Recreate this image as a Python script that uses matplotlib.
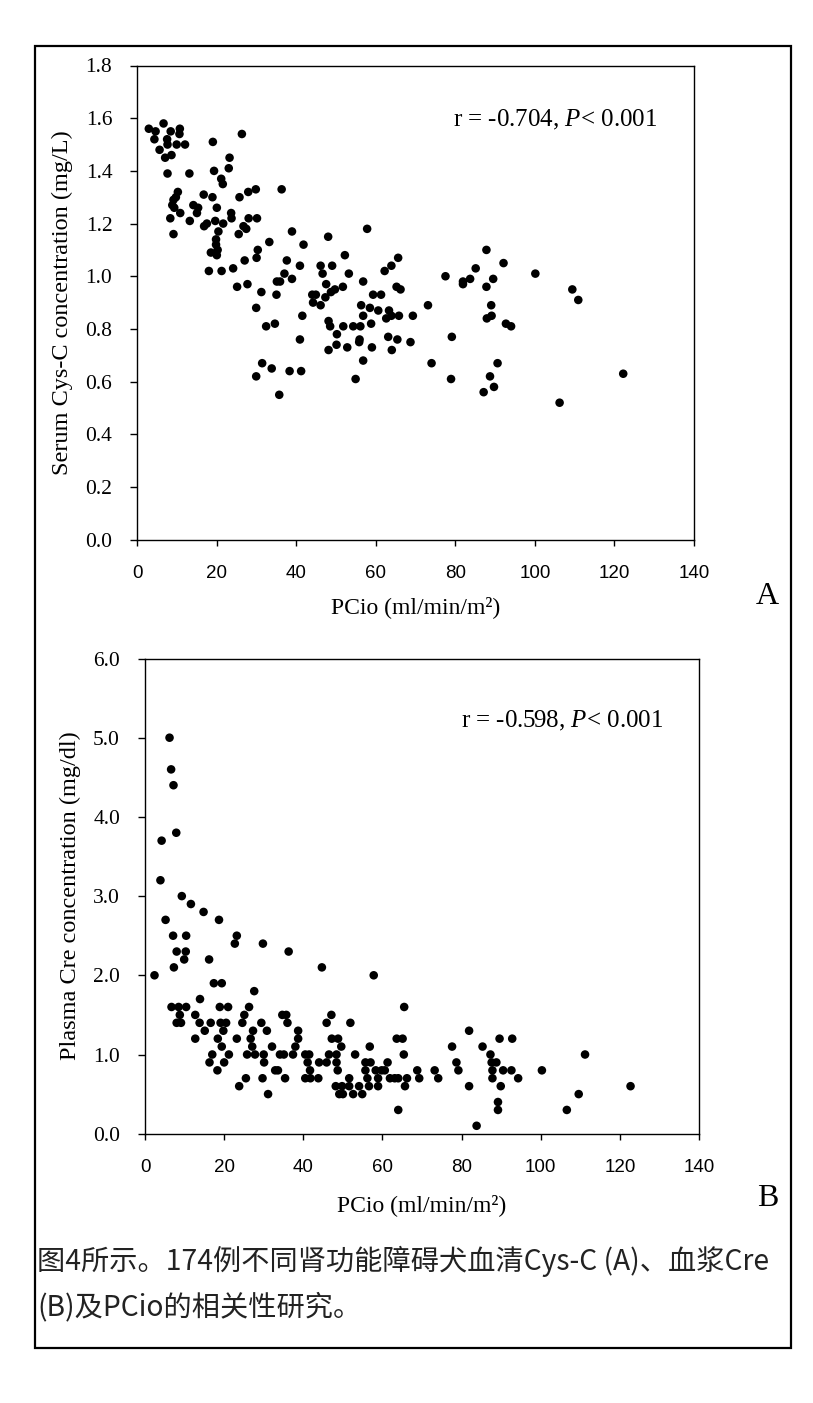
import matplotlib
matplotlib.use("Agg")
import matplotlib.pyplot as plt
from matplotlib.patches import Rectangle

# ---------------- data ----------------
# Panel A: PCio (ml/min/m2) vs serum Cys-C (mg/L)
a_x = [2.9, 4.6, 6.6, 8.4, 10.7, 10.6, 4.3, 7.5, 7.6, 9.9, 12.0, 5.6, 7.0, 8.6, 7.6, 13.1,
       19.0, 26.3, 23.2, 23.0, 19.3, 21.1, 21.5, 36.3, 29.8, 27.9, 25.7, 10.2, 9.7, 9.1, 8.8,
       9.3, 10.8, 8.3, 13.2, 9.1, 16.7, 18.9, 14.1, 15.3, 15.0, 20.0, 23.6, 23.7, 28.0, 30.1,
       16.8, 17.5, 19.6, 21.6, 20.4, 26.7, 27.4, 25.5, 19.8, 19.8, 18.5, 20.2, 20.0, 38.9,
       33.2, 41.8, 48.0, 30.3, 30.0, 27.0, 37.6, 40.9, 46.1, 18.0, 21.2, 24.1, 37.0, 38.9,
       46.6, 35.1, 35.9, 47.5, 25.1, 27.7, 31.2, 35.0, 44.0, 44.9, 47.3, 48.7, 44.2, 46.1,
       29.9, 41.5, 32.4, 34.6, 48.1, 48.5, 40.9, 48.1, 31.4, 33.8, 38.3, 41.2, 29.9, 35.7,
       57.8, 52.2, 65.6, 49.0, 63.9, 62.2, 53.2, 56.8, 65.2, 66.2, 51.7, 49.7, 59.3, 61.3,
       56.3, 58.5, 60.6, 63.3, 73.1, 56.8, 62.6, 63.9, 65.8, 69.3, 51.8, 54.3, 56.1, 58.8,
       50.2, 55.9, 55.8, 63.1, 65.4, 68.7, 50.1, 52.8, 59.0, 64.0, 56.8, 54.9, 74.0, 78.9,
       79.1, 77.5, 81.9, 83.7, 81.9, 85.1, 87.8, 89.5, 87.8, 92.1, 89.0, 89.1, 87.9, 92.7,
       90.6, 88.7, 89.7, 87.1, 100.1, 109.4, 110.9, 94.0, 122.2, 106.2]
a_y = [1.56, 1.55, 1.58, 1.55, 1.56, 1.54, 1.52, 1.52, 1.50, 1.50, 1.50, 1.48, 1.45, 1.46, 1.39, 1.39,
       1.51, 1.54, 1.45, 1.41, 1.40, 1.37, 1.35, 1.33, 1.33, 1.32, 1.30, 1.32, 1.30, 1.29, 1.27,
       1.26, 1.24, 1.22, 1.21, 1.16, 1.31, 1.30, 1.27, 1.26, 1.24, 1.26, 1.24, 1.22, 1.22, 1.22,
       1.19, 1.20, 1.21, 1.20, 1.17, 1.19, 1.18, 1.16, 1.14, 1.12, 1.09, 1.10, 1.08, 1.17,
       1.13, 1.12, 1.15, 1.10, 1.07, 1.06, 1.06, 1.04, 1.04, 1.02, 1.02, 1.03, 1.01, 0.99,
       1.01, 0.98, 0.98, 0.97, 0.96, 0.97, 0.94, 0.93, 0.93, 0.93, 0.92, 0.94, 0.90, 0.89,
       0.88, 0.85, 0.81, 0.82, 0.83, 0.81, 0.76, 0.72, 0.67, 0.65, 0.64, 0.64, 0.62, 0.55,
       1.18, 1.08, 1.07, 1.04, 1.04, 1.02, 1.01, 0.98, 0.96, 0.95, 0.96, 0.95, 0.93, 0.93,
       0.89, 0.88, 0.87, 0.87, 0.89, 0.85, 0.84, 0.85, 0.85, 0.85, 0.81, 0.81, 0.81, 0.82,
       0.78, 0.76, 0.75, 0.77, 0.76, 0.75, 0.74, 0.73, 0.73, 0.72, 0.68, 0.61, 0.67, 0.61,
       0.77, 1.00, 0.98, 0.99, 0.97, 1.03, 1.10, 0.99, 0.96, 1.05, 0.89, 0.85, 0.84, 0.82,
       0.67, 0.62, 0.58, 0.56, 1.01, 0.95, 0.91, 0.81, 0.63, 0.52]

# Panel B: PCio (ml/min/m2) vs plasma Cre (mg/dl)
b_x = [6.2, 6.6, 7.2, 7.9, 4.2, 3.9, 9.3, 11.6, 14.8, 18.7, 5.2, 7.1, 10.4, 23.2, 22.7, 29.8,
       8.0, 10.3, 9.9, 16.2, 7.3, 2.4, 17.4, 19.4, 27.6, 13.9, 6.7, 8.5, 10.4, 18.9, 21.0,
       26.3, 36.3, 8.8, 12.7, 25.1, 34.7, 35.7, 44.7, 8.0, 9.1, 13.8, 16.6, 19.1, 20.5, 24.6,
       29.4, 36.0, 45.9, 47.1, 15.1, 19.8, 27.3, 30.8, 38.7, 12.7, 18.4, 23.2, 26.7, 38.7,
       47.2, 48.8, 19.4, 27.1, 32.1, 38.0, 17.0, 21.2, 25.8, 27.8, 30.0, 34.1, 35.1, 37.4,
       40.5, 41.5, 46.5, 48.4, 16.3, 20.0, 30.1, 41.1, 44.0, 45.9, 48.4, 18.3, 32.9, 33.6,
       41.7, 25.5, 29.7, 35.4, 40.5, 41.8, 43.8, 48.2, 23.8, 31.1, 49.1, 57.8, 65.5, 51.9,
       81.9, 63.6, 65.1, 89.6, 92.8, 49.6, 56.8, 77.6, 85.3, 53.1, 65.4, 87.3, 55.7, 57.0,
       61.3, 78.7, 87.6, 88.8, 48.7, 55.7, 58.3, 59.8, 60.6, 68.8, 73.2, 79.2, 87.8, 90.5,
       92.6, 51.6, 56.2, 58.9, 61.9, 63.1, 64.0, 66.2, 69.3, 74.1, 87.8, 94.3, 49.8, 51.6,
       54.1, 56.6, 58.9, 65.7, 81.9, 89.9, 50.0, 52.6, 54.9, 89.2, 64.0, 89.2, 83.8, 111.2,
       100.3, 122.7, 109.6, 106.6]
b_y = [5.0, 4.6, 4.4, 3.8, 3.7, 3.2, 3.0, 2.9, 2.8, 2.7, 2.7, 2.5, 2.5, 2.5, 2.4, 2.4,
       2.3, 2.3, 2.2, 2.2, 2.1, 2.0, 1.9, 1.9, 1.8, 1.7, 1.6, 1.6, 1.6, 1.6, 1.6,
       1.6, 2.3, 1.5, 1.5, 1.5, 1.5, 1.5, 2.1, 1.4, 1.4, 1.4, 1.4, 1.4, 1.4, 1.4,
       1.4, 1.4, 1.4, 1.5, 1.3, 1.3, 1.3, 1.3, 1.3, 1.2, 1.2, 1.2, 1.2, 1.2,
       1.2, 1.2, 1.1, 1.1, 1.1, 1.1, 1.0, 1.0, 1.0, 1.0, 1.0, 1.0, 1.0, 1.0,
       1.0, 1.0, 1.0, 1.0, 0.9, 0.9, 0.9, 0.9, 0.9, 0.9, 0.9, 0.8, 0.8, 0.8,
       0.8, 0.7, 0.7, 0.7, 0.7, 0.7, 0.7, 0.6, 0.6, 0.5, 0.5, 2.0, 1.6, 1.4,
       1.3, 1.2, 1.2, 1.2, 1.2, 1.1, 1.1, 1.1, 1.1, 1.0, 1.0, 1.0, 0.9, 0.9,
       0.9, 0.9, 0.9, 0.9, 0.8, 0.8, 0.8, 0.8, 0.8, 0.8, 0.8, 0.8, 0.8, 0.8,
       0.8, 0.7, 0.7, 0.7, 0.7, 0.7, 0.7, 0.7, 0.7, 0.7, 0.7, 0.7, 0.6, 0.6,
       0.6, 0.6, 0.6, 0.6, 0.6, 0.6, 0.5, 0.5, 0.5, 0.4, 0.3, 0.3, 0.1, 1.0,
       0.8, 0.6, 0.5, 0.3]

x_ticks = [0, 20, 40, 60, 80, 100, 120, 140]
a_yticks = [0.0, 0.2, 0.4, 0.6, 0.8, 1.0, 1.2, 1.4, 1.6, 1.8]
b_yticks = [0.0, 1.0, 2.0, 3.0, 4.0, 5.0, 6.0]

x_label = "PCio (ml/min/m\u00b2)"
a_ylabel = "Serum Cys-C concentration (mg/L)"
b_ylabel = "Plasma Cre concentration (mg/dl)"
a_stat = "r = -0.704, $\\it{P}$< 0.001"
b_stat = "r = -0.598, $\\it{P}$< 0.001"
caption1 = "图4所示。174例不同肾功能障碍犬血清Cys-C (A)、血浆Cre"
caption2 = "(B)及PCio的相关性研究。"

# ---------------- style ----------------
plt.rcParams["font.family"] = ["Liberation Serif"]
plt.rcParams["mathtext.fontset"] = "custom"
plt.rcParams["mathtext.rm"] = "Liberation Serif"
plt.rcParams["mathtext.it"] = "Liberation Serif:italic"

W, H = 813, 1403
fig = plt.figure(figsize=(W / 100, H / 100), dpi=100)

# outer frame
fig.patches.append(Rectangle((35 / W, 1 - 1348 / H), (791 - 35) / W, (1348 - 46) / H,
                             transform=fig.transFigure, fill=False, edgecolor="black",
                             linewidth=1.6))


def make_panel(rect, xs, ys, yticks, ylim, ylabel, stat, stat_y, xlabelpad,
               letter, letter_pos, yfmt):
    ax = fig.add_axes(rect)
    ax.scatter(xs, ys, s=38, color="black", edgecolors="none", zorder=3)
    ax.set_xlim(0, 140)
    ax.set_ylim(*ylim)
    ax.set_xticks(x_ticks)
    ax.set_xticklabels([str(t) for t in x_ticks], family="Liberation Sans", fontsize=13.5)
    ax.set_yticks(yticks)
    ax.set_yticklabels([yfmt.format(t) for t in yticks], family="Liberation Serif",
                       fontsize=15.5)
    ax.tick_params(axis="x", direction="out", length=4, width=1.0, pad=14)
    ax.tick_params(axis="y", direction="out", length=5, width=1.0, pad=13)
    for sp in ax.spines.values():
        sp.set_linewidth(1.0)
        sp.set_color("black")
    ax.set_xlabel(x_label, fontsize=17, labelpad=xlabelpad)
    ax.set_ylabel(ylabel, fontsize=17.5, labelpad=9)
    ax.text(0.935, stat_y, stat, transform=ax.transAxes, ha="right", va="center", fontsize=18)
    fig.text(letter_pos[0] / W, 1 - letter_pos[1] / H, letter, fontsize=23,
             ha="center", va="center")
    return ax


make_panel([137.3 / W, 1 - 539.7 / H, (694 - 137.3) / W, (539.7 - 65.5) / H],
           a_x, a_y, a_yticks, (0, 1.8), a_ylabel, a_stat, 0.886, 10,
           "A", (767, 597), "{:.1f}")
make_panel([145 / W, 1 - 1133.7 / H, (699 - 145) / W, (1133.7 - 658.5) / H],
           b_x, b_y, b_yticks, (0, 6.0), b_ylabel, b_stat, 0.868, 13,
           "B", (768, 1198), "{:.1f}")

cap_font = ["Noto Sans CJK SC", "DejaVu Sans"]
fig.text(37 / W, 1 - 1261 / H, caption1, family=cap_font, fontsize=20.3, ha="left", va="center",
         color="#222222")
fig.text(37 / W, 1 - 1307 / H, caption2, family=cap_font, fontsize=20.3, ha="left", va="center",
         color="#222222")

fig.savefig("out.png", dpi=100)
